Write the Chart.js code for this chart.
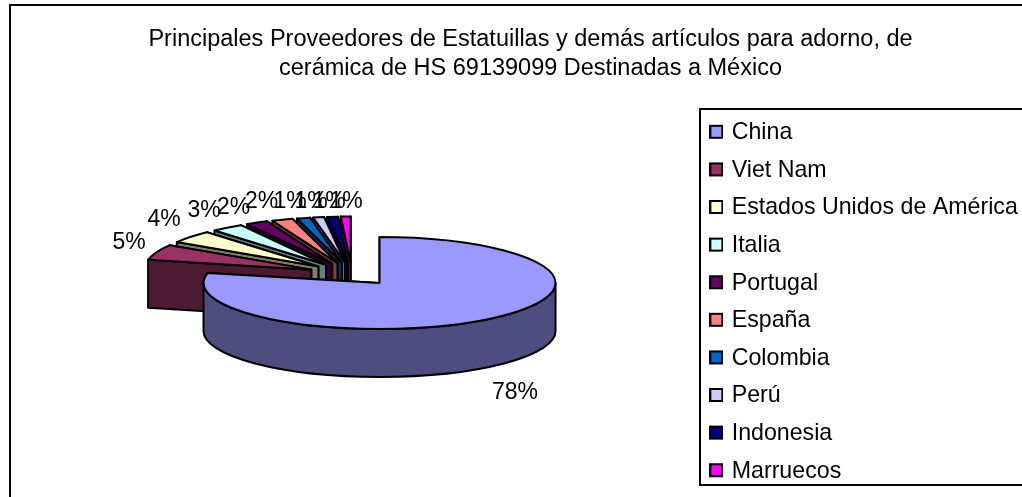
<!DOCTYPE html>
<html><head><meta charset="utf-8">
<style>html,body{margin:0;padding:0;background:#fff}canvas{display:block}</style>
<script src="https://cdn.jsdelivr.net/npm/chart.js@4/dist/chart.umd.min.js"></script>
</head><body><canvas id="c" width="1022" height="497"></canvas>
<script>
const titleLines = ["Principales Proveedores de Estatuillas y demás artículos para adorno, de","cerámica de HS 69139099 Destinadas a México"];
const categories = ["China","Viet Nam","Estados Unidos de América","Italia","Portugal","España","Colombia","Perú","Indonesia","Marruecos"];
const shares = [78.4,5.45,4.45,3.1,2.14,2.03,1.28,1.05,1.05,0.95];
const topColors = ["#9999FF","#993366","#FFFFCC","#CCFFFF","#660066","#FF8080","#0066CC","#CCCCFF","#000080","#FF00FF"];
const wallColors = ["#4D4D80","#4D1A33","#808066","#668080","#330033","#804040","#003366","#666680","#000040","#800080"];

const LAYOUT = {cx:352, cy:274, k:46/176, radius:176, explode:44, depth:48, smallSx:0.95};
const labelAnchors = [[515,393],[129,243],[164,220],[204,211],[233.5,208],[261.5,202],[290,202],[311,202],[329,202],[346,202]];

function swatch(color){
  const s = document.createElement('canvas'); s.width = 14; s.height = 18;
  const g = s.getContext('2d');
  g.fillStyle = color; g.strokeStyle = '#000'; g.lineWidth = 2;
  g.fillRect(1,2,12,12); g.strokeRect(1,2,12,12);
  return s;
}

const pie3d = {
  id:'pie3d',
  afterLayout(chart){
    const t = chart.titleBlock, l = chart.legend, p = l.options.labels.padding;
    t.left = 49; t.right = 1012; t.top = 25; t.bottom = t.top + t.height;
    l.left = 712.6 - p; l.right = l.left + l.width; l.top = 121.2 - p; l.bottom = l.top + l.height;
  },
  beforeDraw(chart){
    const c = chart.ctx;
    c.save();
    c.strokeStyle = '#000'; c.lineWidth = 2;
    c.beginPath(); c.moveTo(10,497); c.lineTo(10,5); c.lineTo(1022,5); c.stroke();
    c.beginPath(); c.moveTo(1022,109); c.lineTo(700,109); c.lineTo(700,485); c.lineTo(1022,485); c.stroke();
    c.restore();
  },
  beforeDatasetsDraw(chart){
    const c = chart.ctx, L = LAYOUT, meta = chart.getDatasetMeta(0).data;
    c.save();
    c.lineJoin = 'round'; c.lineWidth = 2; c.strokeStyle = '#000';
    for (let i = meta.length-1; i >= 0; i--) {
      const el = meta[i];
      const a = el.startAngle, b = el.endAngle, mid = (a+b)/2, R = el.outerRadius;
      const sx = i === 0 ? 1 : L.smallSx;
      const ax = L.cx + Math.cos(mid)*L.explode, ay = L.cy + Math.sin(mid)*L.explode*L.k;
      const P = (ang,d=0)=>[ax+Math.cos(ang)*R*sx, ay+Math.sin(ang)*R*L.k+d];
      const quad = (pts,fill)=>{
        c.beginPath(); pts.forEach((p,j)=> j? c.lineTo(p[0],p[1]):c.moveTo(p[0],p[1])); c.closePath();
        c.fillStyle = fill; c.fill(); c.stroke();
      };
      const apex = [ax,ay], apexD = [ax,ay+L.depth];
      quad([apex,P(b),P(b,L.depth),apexD], wallColors[i]);
      quad([apex,P(a),P(a,L.depth),apexD], wallColors[i]);
      const s = Math.max(a,0), e = Math.min(b,Math.PI);
      if (e > s) {
        c.beginPath();
        c.save(); c.translate(ax,ay); c.scale(sx,L.k); c.arc(0,0,R,s,e); c.restore();
        c.save(); c.translate(ax,ay+L.depth); c.scale(sx,L.k); c.arc(0,0,R,e,s,true); c.restore();
        c.closePath(); c.fillStyle = wallColors[i]; c.fill(); c.stroke();
      }
      c.save();
      c.translate(ax,ay); c.scale(sx,L.k); c.translate(-el.x,-el.y);
      el.draw(c);
      c.restore();
      c.beginPath();
      c.save(); c.translate(ax,ay); c.scale(sx,L.k);
      c.moveTo(0,0); c.arc(0,0,R,a,b); c.closePath();
      c.restore();
      c.stroke();
    }
    c.restore();
    const total = shares.reduce((x,y)=>x+y,0);
    c.save();
    c.font = '23px "Liberation Sans"'; c.fillStyle = '#000'; c.textAlign='center'; c.textBaseline='middle';
    shares.forEach((v,i)=> c.fillText(Math.round(v/total*100)+'%', labelAnchors[i][0], labelAnchors[i][1]));
    c.restore();
    return false;
  }
};

new Chart(document.getElementById('c'),{
  type:'pie',
  data:{labels:categories,datasets:[{data:shares,backgroundColor:topColors,borderWidth:0}]},
  options:{
    responsive:false, animation:false, radius:LAYOUT.radius,
    layout:{padding:0},
    plugins:{
      tooltip:{enabled:false},
      title:{display:true,text:titleLines,color:'#000',padding:0,font:{family:'"Liberation Sans"',size:23.5,weight:'normal',lineHeight:1.234}},
      legend:{display:true,position:'right',align:'start',
        labels:{color:'#000',usePointStyle:true,pointStyleWidth:7.5,boxHeight:12,padding:14.4,font:{family:'"Liberation Sans"',size:23.2},
          generateLabels(chart){return categories.map((t,i)=>({text:t,fillStyle:topColors[i],strokeStyle:'#000',lineWidth:2,index:i,pointStyle:swatch(topColors[i])}));}}}
    }
  },
  plugins:[pie3d]
});
</script></body></html>
